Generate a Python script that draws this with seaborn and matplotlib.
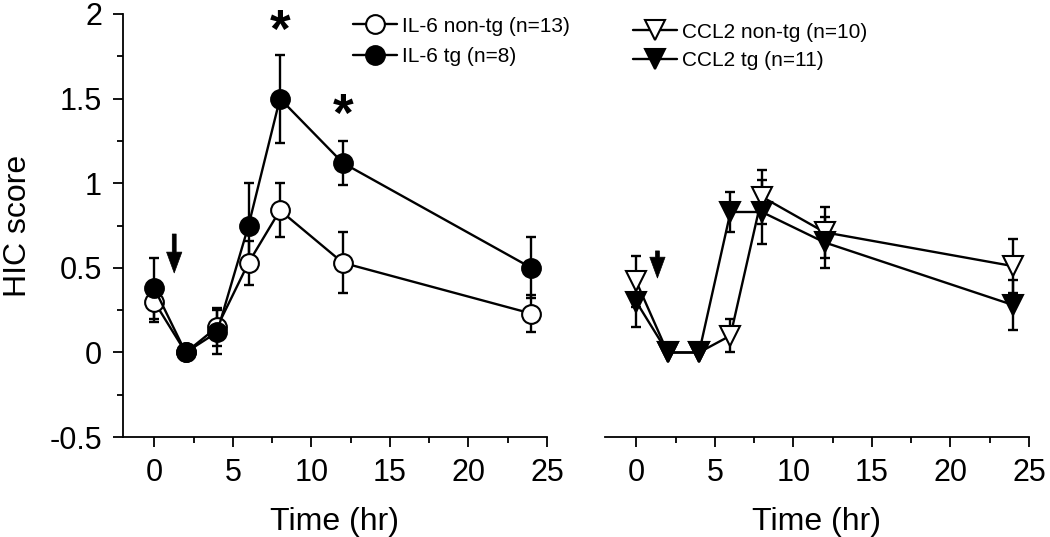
import matplotlib
matplotlib.use("Agg")
import matplotlib.pyplot as plt
import seaborn as sns
from matplotlib.ticker import MultipleLocator

# data (mean +/- SEM)
time = [0, 2, 4, 6, 8, 12, 24]

il6_nontg = [0.30, 0.0, 0.15, 0.53, 0.84, 0.53, 0.23]
il6_nontg_sem = [0.12, 0.0, 0.11, 0.13, 0.16, 0.18, 0.11]
il6_tg = [0.38, 0.0, 0.12, 0.75, 1.50, 1.12, 0.50]
il6_tg_sem = [0.18, 0.0, 0.13, 0.25, 0.26, 0.13, 0.18]

ccl2_nontg = [0.42, 0.0, 0.0, 0.10, 0.92, 0.71, 0.51]
ccl2_nontg_sem = [0.15, 0.0, 0.0, 0.10, 0.16, 0.15, 0.16]
ccl2_tg = [0.30, 0.0, 0.0, 0.83, 0.83, 0.65, 0.28]
ccl2_tg_sem = [0.15, 0.0, 0.0, 0.12, 0.19, 0.15, 0.15]

star_time = [8, 12]
star_y = [1.89, 1.39]

# arrow (injection) marks: time, top, tip
arrow_left = (1.27, 0.70, 0.47)
arrow_right = (1.35, 0.60, 0.44)

y_ticks = [-0.5, 0, 0.5, 1, 1.5, 2]
y_ticklabels = ["-0.5", "0", "0.5", "1", "1.5", "2"]
x_ticks = [0, 5, 10, 15, 20, 25]

sns.set_theme(style="ticks")
plt.rcParams['font.family'] = ['Liberation Sans', 'DejaVu Sans']
plt.rcParams['axes.unicode_minus'] = False
plt.rcParams['text.color'] = 'black'
plt.rcParams['axes.labelcolor'] = 'black'
plt.rcParams['xtick.color'] = 'black'
plt.rcParams['ytick.color'] = 'black'

fig = plt.figure(figsize=(10.5, 5.37), dpi=100)
ax1 = fig.add_axes([0.117, 0.186, 0.404, 0.788])
ax2 = fig.add_axes([0.576, 0.186, 0.404, 0.788])


def draw_series(ax, y, sem, marker, face, label, ms):
    ax.errorbar(time, y, yerr=sem, fmt='none', ecolor='black', elinewidth=1.7,
                capsize=3.5, capthick=1.7, zorder=2, clip_on=False)
    sns.lineplot(x=time, y=y, ax=ax, color='black', lw=1.7, marker=marker,
                 markersize=ms, markerfacecolor=face, markeredgecolor='black',
                 markeredgewidth=1.5, label=label, zorder=3, clip_on=False)


draw_series(ax1, il6_nontg, il6_nontg_sem, 'o', 'white', 'IL-6 non-tg (n=13)', 13.5)
draw_series(ax1, il6_tg, il6_tg_sem, 'o', 'black', 'IL-6 tg (n=8)', 13.5)
draw_series(ax2, ccl2_nontg, ccl2_nontg_sem, 'v', 'white', 'CCL2 non-tg (n=10)', 15)
draw_series(ax2, ccl2_tg, ccl2_tg_sem, 'v', 'black', 'CCL2 tg (n=11)', 15)

# significance stars
for t, s in zip(star_time, star_y):
    ax1.text(t, s, '*', fontsize=38, fontweight='bold', ha='center', va='center')

# injection arrows
for ax, (t, top, tip) in ((ax1, arrow_left), (ax2, arrow_right)):
    ax.annotate('', xy=(t, tip), xytext=(t, top),
                arrowprops=dict(width=2.8, headwidth=11, headlength=15,
                                facecolor='black', edgecolor='black', lw=0.5,
                                shrink=0))

for ax in (ax1, ax2):
    ax.set_xlim(-2, 25)
    ax.set_ylim(-0.5, 2)
    ax.set_xticks(x_ticks)
    ax.xaxis.set_minor_locator(MultipleLocator(2.5))
    ax.set_xlabel('Time (hr)', fontsize=23, labelpad=14)
    ax.tick_params(axis='both', which='major', direction='out', length=7,
                   width=1.3, labelsize=22, color='black', pad=8)
    ax.tick_params(axis='both', which='minor', direction='out', length=4,
                   width=1.3, color='black')
    for side in ('top', 'right'):
        ax.spines[side].set_visible(False)
    for sp in ax.spines.values():
        sp.set_linewidth(1.3)
        sp.set_color('black')

ax1.set_yticks(y_ticks)
ax1.set_yticklabels(y_ticklabels)
ax1.yaxis.set_minor_locator(MultipleLocator(0.25))
ax1.set_ylabel('HIC score', fontsize=23, labelpad=12)

ax2.spines['left'].set_visible(False)
ax2.set_yticks([])
ax2.set_ylabel('')

ax1.legend(loc='upper left', bbox_to_anchor=(0.336, 0.969),
           bbox_transform=fig.transFigure, frameon=False, fontsize=15,
           handlelength=2.1, handletextpad=0.25, labelspacing=0.55,
           borderpad=0, borderaxespad=0)
ax2.legend(loc='upper left', bbox_to_anchor=(0.603, 0.958),
           bbox_transform=fig.transFigure, frameon=False, fontsize=15,
           handlelength=2.1, handletextpad=0.25, labelspacing=0.45,
           borderpad=0, borderaxespad=0)

fig.savefig('out.png', dpi=100)
